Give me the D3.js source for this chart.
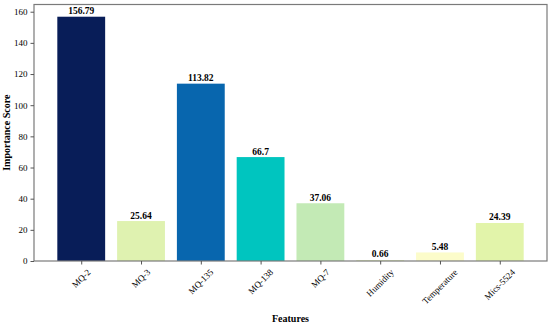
<!DOCTYPE html>
<html><head><meta charset="utf-8">
<script src="https://cdn.jsdelivr.net/npm/d3@7"></script>
<style>body{margin:0;background:#fff}svg{display:block}</style>
</head><body>
<svg id="c" width="550" height="327"></svg>
<script>
const features = ["MQ-2","MQ-3","MQ-135","MQ-138","MQ-7","Humidity","Temperature","Mics-5524"];
const scores = [156.79,25.64,113.82,66.7,37.06,0.66,5.48,24.39];
const labels = ["156.79","25.64","113.82","66.7","37.06","0.66","5.48","24.39"];
const colors = ["#081d58","#dff2b0","#0866ae","#00c5bf","#c3eab5","#e8f6c0","#fcfcca","#e2f4aa"];
const yTicks = [0,20,40,60,80,100,120,140,160];

const svg = d3.select("#c");
const m = {l:34, r:3, t:4.5, b:66};
const W = 550, H = 327;
const font = "'Liberation Serif','DejaVu Serif',serif";

const x = d3.scaleLinear().domain([-0.79, features.length - 1 + 0.79]).range([m.l, W - m.r]);
const y = d3.scaleLinear().domain([0, 164.63]).range([H - m.b, m.t]);
const bw = x(0.8) - x(0);

svg.selectAll("rect.bar").data(scores).join("rect")
  .attr("class","bar")
  .attr("x",(d,i)=>x(i)-bw/2).attr("width",bw)
  .attr("y",d=>y(d)).attr("height",d=>y(0)-y(d))
  .attr("fill",(d,i)=>colors[i]);

svg.selectAll("text.val").data(scores).join("text")
  .attr("class","val")
  .attr("x",(d,i)=>x(i)).attr("y",d=>y(d)-2.5)
  .attr("text-anchor","middle")
  .attr("font-family",font).attr("font-weight","bold").attr("font-size",9.5)
  .attr("fill","#000")
  .text((d,i)=>labels[i]);

// frame
svg.append("rect").attr("x",m.l).attr("y",m.t).attr("width",W-m.r-m.l).attr("height",H-m.b-m.t)
  .attr("fill","none").attr("stroke","#7a7a7a").attr("stroke-width",1.2);

// y axis
const yAxis = d3.axisLeft(y).tickValues(yTicks).tickSize(3.5).tickPadding(3);
const gy = svg.append("g").attr("transform",`translate(${m.l},0)`).call(yAxis);
gy.select(".domain").remove();
gy.selectAll("line").attr("stroke","#555");
gy.selectAll("text").attr("font-family",font).attr("font-size",9).attr("fill","#000");

// x axis
const xAxis = d3.axisBottom(x).tickValues(d3.range(features.length)).tickSize(3.5).tickFormat(()=>"");
const gx = svg.append("g").attr("transform",`translate(0,${H-m.b})`).call(xAxis);
gx.select(".domain").remove();
gx.selectAll("line").attr("stroke","#555");

const xl = svg.append("g").selectAll("text").data(features).join("text")
  .attr("font-family",font).attr("font-size",9).attr("fill","#000")
  .attr("text-anchor","middle").attr("dominant-baseline","central")
  .text(d=>d);
xl.each(function(d,i){
  const len = this.getComputedTextLength();
  const h = (len + 9) * Math.SQRT1_2;
  const cy = H - m.b + 3.5 + 3 + h/2;
  d3.select(this).attr("transform",`translate(${x(i)},${cy}) rotate(-45)`);
});

svg.append("text").attr("x",(m.l+W-m.r)/2).attr("y",322)
  .attr("text-anchor","middle").attr("font-family",font).attr("font-weight","bold").attr("font-size",10)
  .text("Features");
svg.append("text").attr("transform",`translate(10,${(m.t+H-m.b)/2}) rotate(-90)`)
  .attr("text-anchor","middle").attr("font-family",font).attr("font-weight","bold").attr("font-size",10)
  .text("Importance Score");
</script>
</body></html>
